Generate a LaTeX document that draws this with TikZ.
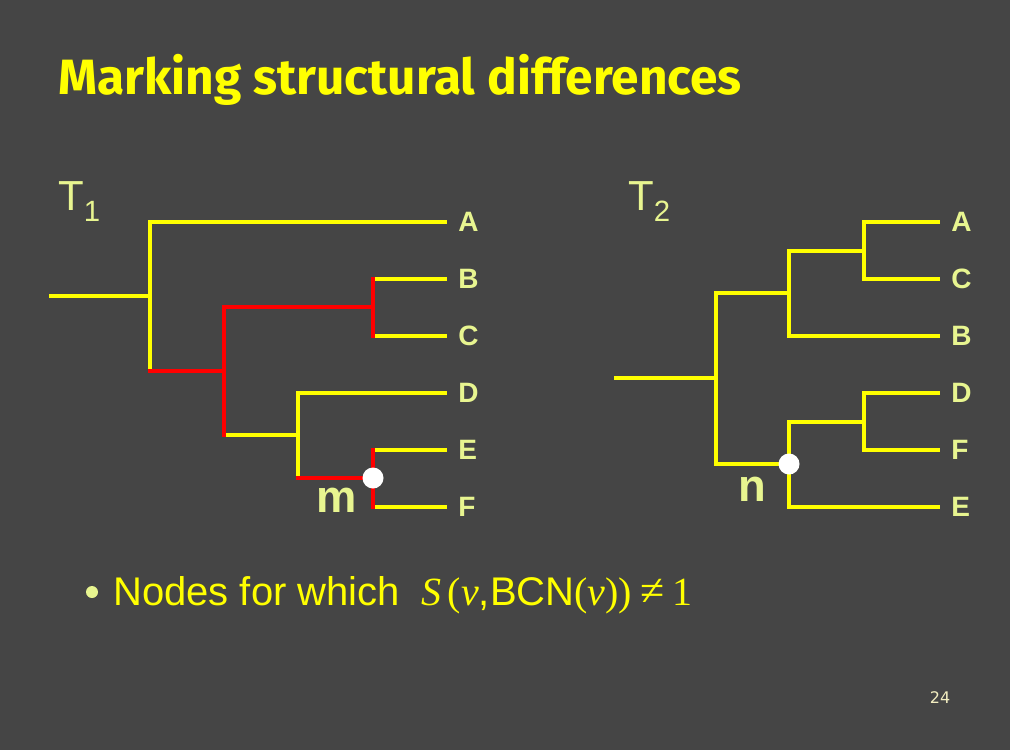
\documentclass[tikz,border=0pt]{standalone}
\usepackage{fontspec}
\setmainfont{Liberation Sans}
\setsansfont{Liberation Sans}
\newfontfamily\titlefont{Fira Sans}
\newfontfamily\eqfont{Liberation Serif}
\newfontfamily\numfont{DejaVu Sans}
\definecolor{Slate}{HTML}{454545}
\definecolor{Lemon}{HTML}{FFFF00}
\definecolor{Pale}{HTML}{E8F590}
\definecolor{Cream}{HTML}{F2EDC0}
\definecolor{Alarm}{HTML}{FF0000}
\newcommand\symv{{\eqfont\itshape v}}
\newcommand\eqp[1]{{\eqfont #1}}

\begin{document}
\begin{tikzpicture}[
    x=0.75pt,y=-0.75pt,
    branch/.style={Lemon,line width=2.4pt},
    diffbranch/.style={Alarm,line width=3.2pt,line cap=rect},
    leaf/.style={anchor=west,inner xsep=8.25pt,inner ysep=0pt,text=Pale,
      font=\fontsize{21}{21}\selectfont\bfseries},
    hit/.style={circle,fill=white,minimum size=15.75pt,inner sep=0pt},
    tag/.style={text=Pale,inner sep=0pt,font=\fontsize{34}{34}\selectfont\bfseries},
    treename/.style={anchor=base west,inner sep=0pt,text=Pale,
      font=\fontsize{31.5}{31.5}\selectfont}
  ]
  \fill[Slate] (0,0) rectangle (1010,750);

  \node[anchor=base west,inner sep=0pt,text=Lemon,
    font=\titlefont\bfseries\fontsize{37.2}{37.2}\selectfont] (title) at (58,94)
    {Marking structural differences};

  % first tree
  \node[treename] (t1) at (58,210) {T\raisebox{-8.25pt}{\fontsize{22}{22}\selectfont 1}};
  \coordinate (r1) at (49,296);
  \coordinate (p1) at (150,296);
  \coordinate (p2) at (224,371);
  \coordinate (p3) at (373,307);
  \coordinate (p4) at (298,435);
  \coordinate (p5) at (373,478);
  \node[leaf] (a1) at (447,222) {A};
  \node[leaf] (b1) at (447,279) {B};
  \node[leaf] (c1) at (447,336) {C};
  \node[leaf] (d1) at (447,393) {D};
  \node[leaf] (e1) at (447,450) {E};
  \node[leaf] (f1) at (447,507) {F};

  \draw[branch] (r1) -- (p1);
  \draw[branch] (p1 |- p2) -- (p1 |- a1) -- (a1.west);
  \draw[branch] (p2 |- p4) -- (p4);
  \draw[branch] (p4 |- p5) -- (p4 |- d1) -- (d1.west);
  \draw[branch] (p3 |- b1) -- (b1.west);
  \draw[branch] (p3 |- c1) -- (c1.west);
  \draw[branch] (p5 |- e1) -- (e1.west);
  \draw[branch] (p5 |- f1) -- (f1.west);

  \draw[diffbranch] (p1 |- p2) -- (p2);
  \draw[diffbranch] (p2 |- p4) -- (p2 |- p3) -- (p3);
  \draw[diffbranch] (p3 |- b1) -- (p3 |- c1);
  \draw[diffbranch] (p4 |- p5) -- (p5);
  \draw[diffbranch] (p5 |- e1) -- (p5 |- f1);

  \node[hit] (hm) at (p5) {};
  \node[tag] (lm) at (337,500) {m};

  % second tree
  \node[treename] (t2) at (628,210) {T\raisebox{-8.25pt}{\fontsize{22}{22}\selectfont 2}};
  \coordinate (r2) at (614,378);
  \coordinate (q1) at (716,378);
  \coordinate (q2) at (789,293);
  \coordinate (q3) at (864,251);
  \coordinate (q4) at (789,464);
  \coordinate (q5) at (864,422);
  \node[leaf] (a2) at (940,222) {A};
  \node[leaf] (c2) at (940,279) {C};
  \node[leaf] (b2) at (940,336) {B};
  \node[leaf] (d2) at (940,393) {D};
  \node[leaf] (f2) at (940,450) {F};
  \node[leaf] (e2) at (940,507) {E};

  \draw[branch] (r2) -- (q1);
  \draw[branch] (q2) -- (q1 |- q2) -- (q1 |- q4) -- (q4);
  \draw[branch] (q3) -- (q2 |- q3) -- (q2 |- b2) -- (b2.west);
  \draw[branch] (a2.west) -- (q3 |- a2) -- (q3 |- c2) -- (c2.west);
  \draw[branch] (q5) -- (q4 |- q5) -- (q4 |- e2) -- (e2.west);
  \draw[branch] (d2.west) -- (q5 |- d2) -- (q5 |- f2) -- (f2.west);

  \node[hit] (hn) at (q4) {};
  \node[tag] (ln) at (752,489) {n};

  % bullet line
  \node[circle,fill=Pale,minimum size=9pt,inner sep=0pt] (dot) at (92,592) {};
  \node[anchor=base west,inner sep=0pt,text=Lemon,font=\fontsize{30}{30}\selectfont]
    (note) at (113,605)
    {Nodes for which\hspace{0.25em} {\eqfont\itshape S}\,\eqp{(}\symv,BCN\eqp{(}\symv\eqp{))}\hspace{0.2em}{\eqfont\fontsize{33}{33}\selectfont ≠}\hspace{0.2em}\eqp{1}};

  \node[text=Cream,font=\numfont\fontsize{12}{12}\selectfont] (page) at (940,698) {24};
\end{tikzpicture}
\end{document}
